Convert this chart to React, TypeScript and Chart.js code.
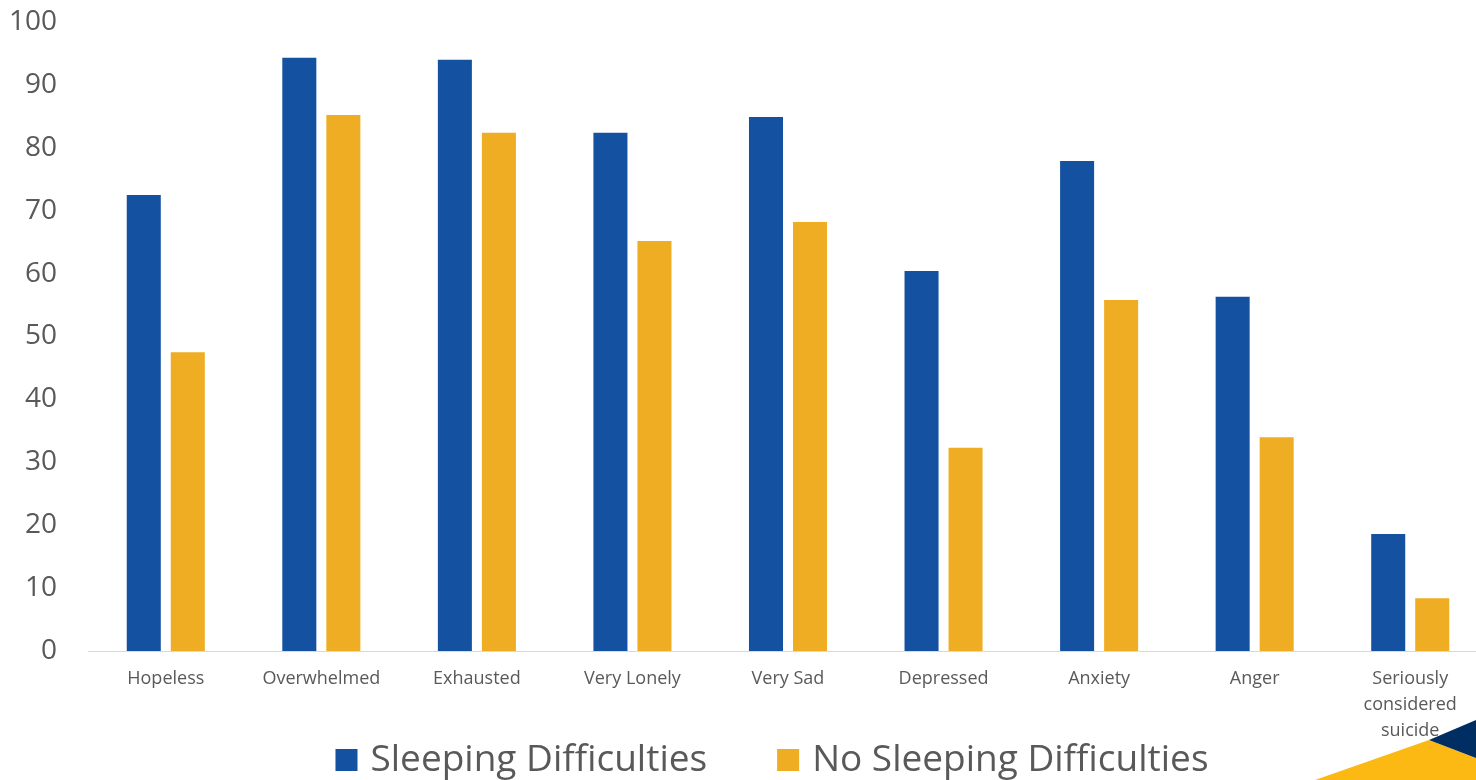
import React, { useEffect, useRef } from "react";
import { Chart, registerables } from "chart.js";

Chart.register(...registerables);

const categories: (string | string[])[] = [
  "Hopeless",
  "Overwhelmed",
  "Exhausted",
  "Very Lonely",
  "Very Sad",
  "Depressed",
  "Anxiety",
  "Anger",
  ["Seriously", "considered", "suicide"],
];

const sleepingDifficulties = [72.5, 94.3, 94.0, 82.4, 84.9, 60.4, 77.9, 56.3, 18.6];
const noSleepingDifficulties = [47.5, 85.2, 82.4, 65.2, 68.2, 32.3, 55.8, 34.0, 8.4];

const seriesNames = ["Sleeping Difficulties", "No Sleeping Difficulties"];
const seriesColors = ["#1451A0", "#EFAD23"];

const FONT = "'Open Sans', Lato, sans-serif";
const TEXT = "#595959";

// Legend drawn centred under the plot, plus the corner ornament.
const overlayPlugin = {
  id: "overlay",
  afterDraw(chart: any) {
    const ctx = chart.ctx as CanvasRenderingContext2D;
    ctx.save();
    ctx.font = `37px ${FONT}`;
    ctx.textBaseline = "middle";
    const box = 22;
    const gapText = 13;
    const gapItem = 70;
    const items = chart.data.datasets.map((ds: any) => ({
      label: ds.label,
      color: ds.backgroundColor,
      w: ctx.measureText(ds.label).width,
    }));
    const total =
      items.reduce((s: number, it: any) => s + box + gapText + it.w, 0) +
      gapItem * (items.length - 1);
    let x = 772 - total / 2;
    const cy = 760;
    items.forEach((it: any) => {
      ctx.fillStyle = it.color;
      ctx.fillRect(x, cy - box / 2, box, box);
      ctx.fillStyle = TEXT;
      ctx.fillText(it.label, x + box + gapText, cy);
      x += box + gapText + it.w + gapItem;
    });

    // corner ornament
    ctx.fillStyle = "#FDB913";
    ctx.beginPath();
    ctx.moveTo(1315, 780);
    ctx.lineTo(1429, 740);
    ctx.lineTo(1476, 758);
    ctx.lineTo(1476, 780);
    ctx.closePath();
    ctx.fill();
    ctx.fillStyle = "#002D62";
    ctx.beginPath();
    ctx.moveTo(1429, 740);
    ctx.lineTo(1476, 720);
    ctx.lineTo(1476, 758);
    ctx.closePath();
    ctx.fill();
    ctx.restore();
  },
};

export default function App() {
  const ref = useRef<HTMLCanvasElement | null>(null);

  useEffect(() => {
    document.body.style.margin = "0";
    document.documentElement.style.overflow = "hidden";
    const canvas = ref.current!;
    const chart = new Chart(canvas, {
      type: "bar",
      data: {
        labels: categories,
        datasets: [
          {
            label: seriesNames[0],
            data: sleepingDifficulties,
            backgroundColor: seriesColors[0],
            barPercentage: 0.773,
            categoryPercentage: 0.566,
          },
          {
            label: seriesNames[1],
            data: noSleepingDifficulties,
            backgroundColor: seriesColors[1],
            barPercentage: 0.773,
            categoryPercentage: 0.566,
          },
        ],
      },
      options: {
        responsive: false,
        animation: false,
        layout: { padding: { top: 22, right: 2, left: 0, bottom: 0 } },
        plugins: {
          legend: { display: false },
          tooltip: { enabled: false },
        },
        scales: {
          x: {
            grid: { display: false },
            border: { display: true, color: "#D9D9D9", width: 1 },
            ticks: {
              color: TEXT,
              font: { family: FONT, size: 18, lineHeight: 1.45 },
              padding: 7,
              maxRotation: 0,
              autoSkip: false,
            },
            afterFit: (scale: any) => {
              scale.height = 129;
              scale.paddingLeft = 0;
              scale.paddingRight = 0;
            },
          },
          y: {
            min: 0,
            max: 100,
            grid: { display: false },
            border: { display: false },
            ticks: {
              stepSize: 10,
              color: TEXT,
              font: { family: FONT, size: 28 },
              padding: 23,
            },
            afterFit: (scale: any) => {
              scale.width = 88;
              scale.paddingTop = 0;
              scale.paddingBottom = 0;
            },
          },
        },
      },
      plugins: [overlayPlugin],
    });
    return () => chart.destroy();
  }, []);

  return (
    <div style={{ width: 1490, height: 780 }}>
      <canvas ref={ref} width={1490} height={780} style={{ display: "block" }} />
    </div>
  );
}
